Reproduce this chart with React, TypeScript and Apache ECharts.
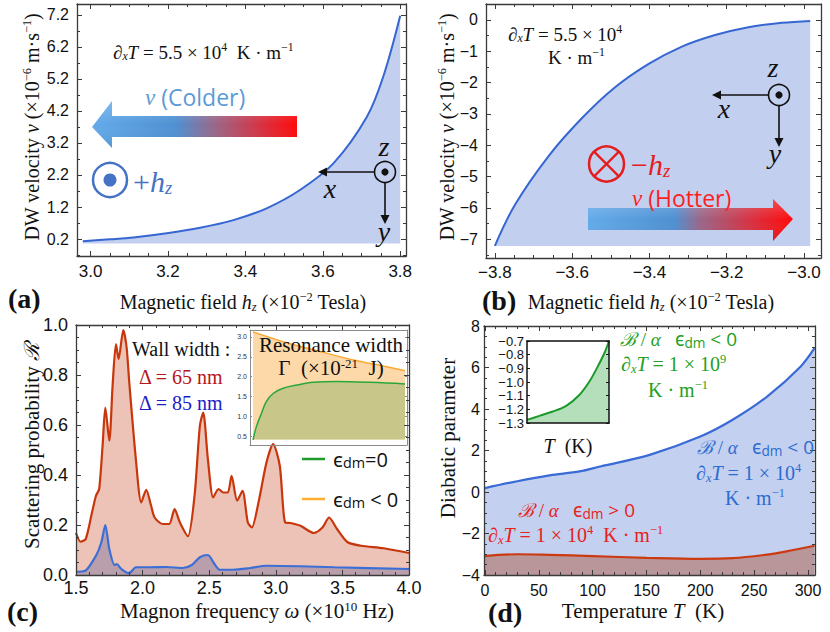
import React, { useEffect, useRef } from "react";
import * as echarts from "echarts";

// ---------------- data ----------------
// (a) DW velocity vs +h_z
const aField = [2.98, 3.05, 3.111, 3.197, 3.283, 3.369, 3.455, 3.541, 3.628, 3.714, 3.757, 3.8];
const aVelocity = [0.13, 0.19, 0.25, 0.38, 0.55, 0.79, 1.16, 1.73, 2.57, 4.02, 5.3, 7.17];
// (b) DW velocity vs -h_z
const bField = [-3.8, -3.748, -3.662, -3.575, -3.489, -3.403, -3.316, -3.23, -3.144, -3.057, -2.984];
const bVelocity = [-7.21, -5.9, -4.36, -3.14, -2.15, -1.41, -0.85, -0.48, -0.23, -0.09, -0.03];
// (c) scattering probability
const cFreqRed = [1.5, 1.535, 1.573, 1.62, 1.65, 1.674, 1.7, 1.72, 1.75, 1.775, 1.8, 1.82, 1.855, 1.88, 1.9, 1.95, 1.99, 2.027, 2.064, 2.09, 2.15, 2.2, 2.24, 2.28, 2.34, 2.39, 2.43, 2.455, 2.49, 2.53, 2.57, 2.606, 2.64, 2.668, 2.71, 2.75, 2.79, 2.82, 2.87, 2.93, 2.98, 3.03, 3.07, 3.11, 3.185, 3.285, 3.35, 3.4, 3.46, 3.54, 3.64, 3.81, 4.0];
const cR65 = [0.168, 0.133, 0.144, 0.25, 0.317, 0.344, 0.52, 0.67, 0.537, 0.76, 0.924, 0.864, 0.98, 0.91, 0.77, 0.46, 0.29, 0.341, 0.277, 0.23, 0.204, 0.204, 0.264, 0.21, 0.155, 0.317, 0.597, 0.65, 0.464, 0.31, 0.344, 0.33, 0.33, 0.397, 0.297, 0.337, 0.21, 0.19, 0.29, 0.45, 0.524, 0.437, 0.21, 0.208, 0.197, 0.168, 0.19, 0.23, 0.184, 0.131, 0.117, 0.107, 0.088];
const cFreqBlue = [1.5, 1.57, 1.65, 1.69, 1.72, 1.75, 1.79, 1.805, 1.84, 1.89, 1.91, 1.95, 2.05, 2.18, 2.3, 2.37, 2.43, 2.49, 2.54, 2.58, 2.68, 2.81, 2.93, 3.185, 3.44, 4.0];
const cR85 = [0.013, 0.017, 0.077, 0.13, 0.2, 0.104, 0.04, 0.044, 0.024, 0.008, 0.011, 0.031, 0.031, 0.032, 0.028, 0.04, 0.071, 0.08, 0.044, 0.021, 0.021, 0.028, 0.037, 0.035, 0.031, 0.024];
// (c) inset: resonance width
const gammaOrangeX = [0, 0.22, 0.44, 0.66, 0.88, 1.0];
const gammaOrange = [3.12, 2.85, 2.63, 2.42, 2.25, 2.15];
const gammaGreenX = [0, 0.022, 0.055, 0.088, 0.132, 0.198, 0.286, 0.396, 0.55, 0.77, 1.0];
const gammaGreen = [0.42, 0.75, 1.08, 1.38, 1.58, 1.71, 1.79, 1.86, 1.88, 1.86, 1.82];
// (d) diabatic parameter
const dTempBlue = [0, 30, 60, 88, 107, 153, 200, 230, 262, 293, 306];
const dBlue = [0.19, 0.52, 0.8, 0.99, 1.23, 1.79, 2.67, 3.48, 4.6, 6.04, 6.93];
const dTempRed = [0, 30, 60, 100, 150, 200, 230, 260, 280, 306];
const dRed = [-3.09, -3.0, -3.03, -3.09, -3.17, -3.22, -3.19, -3.03, -2.86, -2.59];
// (d) inset
const insetT = [0, 0.151, 0.314, 0.478, 0.641, 0.763, 0.865, 0.947, 1.0];
const insetB = [-1.277, -1.248, -1.216, -1.174, -1.093, -0.995, -0.884, -0.784, -0.7];

// tick labels
const aXTicks = [3.0, 3.2, 3.4, 3.6, 3.8];
const aYTicks = [0.2, 1.2, 2.2, 3.2, 4.2, 5.2, 6.2, 7.2];
const bXTicks = [-3.8, -3.6, -3.4, -3.2, -3.0];
const bYTicks = [0, -1, -2, -3, -4, -5, -6, -7];
const cXTicks = [1.5, 2.0, 2.5, 3.0, 3.5, 4.0];
const cYTicks = [0, 0.2, 0.4, 0.6, 0.8, 1.0];
const dXTicks = [0, 50, 100, 150, 200, 250, 300];
const dYTicks = [-4, -2, 0, 2, 4, 6, 8];
const gammaTicks = [0.5, 1.0, 1.5, 2.0, 2.5, 3.0];
const insetDTicks = [-1.3, -1.2, -1.1, -1.0, -0.9, -0.8, -0.7];

// ---------------- helpers ----------------
const SERIF = '"Liberation Serif", "DejaVu Serif", serif';
const SANS = '"Open Sans", "Noto Sans", "Liberation Sans", sans-serif';
const SANS_T = '"Liberation Sans", Arial, sans-serif';

function steps(a: number, b: number, s: number) {
  const out: number[] = [];
  const n = Math.round((b - a) / s);
  for (let i = 0; i <= n; i++) out.push(+(a + i * s).toFixed(6));
  return out;
}
const minus = (s: string) => s.replace("-", "\u2212");
const f1 = (v: number) => minus(v.toFixed(1));
const f0 = (v: number) => minus(String(Math.round(v)));

type Ax = { min: number; max: number; major: number[]; minor: number[]; fmt?: (v: number) => string; size?: number; margin?: number; labelColor?: string };
type FrameStyle = { color: string; width: number; tick: number; minorTick: number; xTicks?: boolean; yTicks?: boolean };

function addFrame(X: any[], Y: any[], grid: number, x: Ax, y: Ax, st: FrameStyle) {
  const mk = (pos: string, a: Ax, line: boolean, ticks: number[], len: number, labels: boolean) => ({
    type: "value",
    gridIndex: grid,
    position: pos,
    min: a.min,
    max: a.max,
    z: 6,
    silent: true,
    axisLine: { show: line, onZero: false, lineStyle: { color: st.color, width: st.width } },
    axisTick: {
      show: ticks.length > 0 && len > 0,
      inside: true,
      length: len,
      customValues: ticks,
      lineStyle: { color: st.color, width: 1 },
    },
    axisLabel:
      labels && a.fmt
        ? { show: true, customValues: a.major, formatter: a.fmt, fontSize: a.size, fontFamily: SANS_T, color: a.labelColor ?? "#111", margin: a.margin ?? 6 }
        : { show: false },
    splitLine: { show: false },
    axisPointer: { show: false },
  });
  const xi = X.length;
  const yi = Y.length;
  const xt = st.xTicks !== false;
  const yt = st.yTicks !== false;
  X.push(mk("bottom", x, true, xt ? x.major : [], st.tick, true));
  X.push(mk("bottom", x, false, xt ? x.minor : [], st.minorTick, false));
  X.push(mk("top", x, true, xt ? x.major : [], st.tick, false));
  X.push(mk("top", x, false, xt ? x.minor : [], st.minorTick, false));
  Y.push(mk("left", y, true, yt ? y.major : [], st.tick, true));
  Y.push(mk("left", y, false, yt ? y.minor : [], st.minorTick, false));
  Y.push(mk("right", y, true, yt ? y.major : [], st.tick, false));
  Y.push(mk("right", y, false, yt ? y.minor : [], st.minorTick, false));
  return { xi, yi };
}

function areaLine(xi: number, yi: number, xs: number[], ys: number[], line: string, width: number, fill: string, origin: any, smooth: any = 0.5) {
  return {
    type: "line",
    xAxisIndex: xi,
    yAxisIndex: yi,
    data: xs.map((x, i) => [x, ys[i]]),
    symbol: "none",
    showSymbol: false,
    smooth,
    silent: true,
    lineStyle: { color: line, width },
    areaStyle: { color: fill, opacity: 1, origin },
    z: 2,
  };
}

function rich(size: number, color: string) {
  const lh = size * 1.08;
  return {
    n: { fontFamily: SERIF, fontSize: size, fill: color, lineHeight: lh },
    i: { fontFamily: SERIF, fontStyle: "italic", fontSize: size, fill: color, lineHeight: lh },
    b: { fontFamily: SERIF, fontWeight: "bold", fontSize: size, fill: color, lineHeight: lh },
    sup: { fontFamily: SERIF, fontSize: size * 0.62, fill: color, lineHeight: size * 0.6, verticalAlign: "top" },
    sub: { fontFamily: SERIF, fontStyle: "italic", fontSize: size * 0.62, fill: color, lineHeight: size * 0.55, verticalAlign: "bottom" },
    s: { fontFamily: SANS, fontSize: size, fill: color, lineHeight: lh },
    ssub: { fontFamily: SANS, fontSize: size * 0.72, fill: color, lineHeight: size * 0.66, verticalAlign: "bottom" },
  };
}

function T(x: number, y: number, text: string, size: number, color: string, align = "left", rotation = 0) {
  return {
    type: "text",
    x,
    y,
    rotation,
    z: 100,
    silent: true,
    style: {
      text,
      fill: color,
      align,
      textAlign: align,
      verticalAlign: "middle",
      textVerticalAlign: "middle",
      font: `${size}px ${SERIF}`,
      rich: rich(size, color),
    },
  };
}

function ln(x1: number, y1: number, x2: number, y2: number, stroke: string, lineWidth: number) {
  return { type: "line", z: 100, silent: true, shape: { x1, y1, x2, y2 }, style: { stroke, lineWidth } };
}
function poly(points: number[][], fill: any) {
  return { type: "polygon", z: 100, silent: true, shape: { points }, style: { fill } };
}
function circ(cx: number, cy: number, r: number, style: any) {
  return { type: "circle", z: 100, silent: true, shape: { cx, cy, r }, style };
}

function axesGlyph(cx: number, cy: number, xTip: number, yTip: number, zPos: number[], xPos: number[], yPos: number[]) {
  const c = "#111";
  return [
    circ(cx, cy, 10.5, { fill: "none", stroke: c, lineWidth: 1.6 }),
    circ(cx, cy, 3.6, { fill: c }),
    ln(cx - 10.5, cy, xTip + 8, cy, c, 1.6),
    poly([[xTip, cy], [xTip + 9, cy - 4.5], [xTip + 9, cy + 4.5]], c),
    ln(cx, cy + 10.5, cx, yTip - 8, c, 1.6),
    poly([[cx, yTip], [cx - 4.5, yTip - 9], [cx + 4.5, yTip - 9]], c),
    T(zPos[0], zPos[1], "{i|z}", 28, c, "center"),
    T(xPos[0], xPos[1], "{i|x}", 28, c, "center"),
    T(yPos[0], yPos[1], "{i|y}", 28, c, "center"),
  ];
}

function gradArrow(points: number[][], stops: [number, string][]) {
  return [
    poly(points, new echarts.graphic.LinearGradient(0, 0, 1, 0, stops.map(([offset, color]) => ({ offset, color })))),
    poly(
      points,
      new echarts.graphic.LinearGradient(0, 0, 0, 1, [
        { offset: 0, color: "rgba(255,255,255,0.22)" },
        { offset: 0.5, color: "rgba(255,255,255,0)" },
        { offset: 1, color: "rgba(0,0,0,0.10)" },
      ])
    ),
  ];
}

function buildOption() {
  const X: any[] = [];
  const Y: any[] = [];
  const main: FrameStyle = { color: "#3a3a3a", width: 1.3, tick: 5, minorTick: 3 };

  const A = addFrame(X, Y, 0,
    { min: 2.965, max: 3.815, major: aXTicks, minor: steps(2.95, 3.8, 0.05), fmt: f1, size: 17, margin: 7 },
    { min: -0.33, max: 7.54, major: aYTicks, minor: steps(-0.3, 7.2, 0.5), fmt: f1, size: 16, margin: 8 }, main);
  const B = addFrame(X, Y, 1,
    { min: -3.823, max: -2.956, major: bXTicks, minor: steps(-3.8, -2.95, 0.05), fmt: f1, size: 17, margin: 6 },
    { min: -7.6, max: 0.51, major: bYTicks, minor: steps(-7.5, 0.5, 0.5), fmt: f0, size: 16, margin: 8 }, main);
  const C = addFrame(X, Y, 2,
    { min: 1.5, max: 4.0, major: cXTicks, minor: steps(1.5, 4.0, 0.1), fmt: f1, size: 18, margin: 4 },
    { min: 0, max: 1.0, major: cYTicks, minor: steps(0, 1.0, 0.05), fmt: f1, size: 18, margin: 8 }, main);
  const D = addFrame(X, Y, 3,
    { min: -0.9, max: 306.5, major: dXTicks, minor: steps(0, 300, 10), fmt: f0, size: 16, margin: 7 },
    { min: -4, max: 8, major: dYTicks, minor: steps(-4, 8, 0.5), fmt: f0, size: 16, margin: 4 }, main);
  const IC = addFrame(X, Y, 4,
    { min: -0.02, max: 1.013, major: [], minor: [] },
    { min: 0.29, max: 3.17, major: gammaTicks, minor: [], fmt: (v: number) => v.toFixed(1), size: 7, margin: 3, labelColor: "#333" },
    { color: "#8a8a8a", width: 1, tick: 2, minorTick: 0, xTicks: false });
  const ID = addFrame(X, Y, 5,
    { min: 0, max: 1, major: [], minor: [] },
    { min: -1.3, max: -0.7, major: insetDTicks, minor: [], fmt: f1, size: 13, margin: 3 },
    { color: "#111", width: 1.5, tick: 3, minorTick: 0, xTicks: false });

  const series = [
    areaLine(A.xi, A.yi, aField, aVelocity, "#3566d1", 2, "#c3cfee", 0.06, 0.35),
    areaLine(B.xi, B.yi, bField, bVelocity, "#3566d1", 2, "#c3cfee", -7.22, 0.35),
    areaLine(C.xi, C.yi, cFreqRed, cR65, "#c8360c", 2.2, "#ecc3b6", "start", 0.25),
    areaLine(C.xi, C.yi, cFreqBlue, cR85, "#3c6fd6", 2.2, "#b99fac", "start", 0.25),
    areaLine(IC.xi, IC.yi, gammaOrangeX, gammaOrange, "#fca832", 1.5, "#fdd9aa", 0.43, 0.35),
    areaLine(IC.xi, IC.yi, gammaGreenX, gammaGreen, "#28a83a", 1.5, "#c9c68a", 0.43, 0.35),
    areaLine(D.xi, D.yi, dTempBlue, dBlue, "#3a6ad6", 2.2, "#c3d0ef", "start", 0.35),
    areaLine(D.xi, D.yi, dTempRed, dRed, "#cc3a12", 2.2, "#b9969a", "start", 0.35),
    areaLine(ID.xi, ID.yi, insetT, insetB, "#1b9a2b", 2, "#b4dfba", "start", 0.35),
  ];

  const black = "#111";
  const blueH = "#4472c4";
  const redH = "#e41c1c";
  const green = "#22a022";
  const blueT = "#2c6cd0";
  const redT = "#e82020";

  const elements: any[] = [
    // ---- (a) ----
    T(113, 52, "{i|\u2202}{sub|x}{i|T}{n| = 5.5 \u00d7 10}{sup|4}{n|  K \u00b7 m}{sup|\u22121}", 19, black),
    ...gradArrow(
      [[92, 127], [112, 101], [112, 116], [297, 116], [297, 137], [112, 137], [112, 148]],
      [[0, "#63aaea"], [0.41, "#4e90d2"], [0.6, "#9a6688"], [0.83, "#d83040"], [1, "#ff0a0a"]]
    ),
    T(145, 97, "{i|v}{s| (Colder)}", 23, "#5b9bd5"),
    circ(110, 180, 17, { fill: "none", stroke: blueH, lineWidth: 2.5 }),
    circ(110, 180, 6.5, { fill: blueH }),
    T(133, 181, "{n|+}{i|h}{sub|z}", 30, blueH),
    ...axesGlyph(385, 172, 318, 224, [384, 146], [330, 188], [384, 231]),
    T(8, 298, "{b|(a)}", 28, black),
    T(243, 302, "{n|Magnetic field }{i|h}{sub|z}{n| (\u00d710}{sup|\u22122}{n| Tesla)}", 20, black, "center"),
    T(32, 127, "{n|DW velocity }{i|v}{n| (\u00d710}{sup|\u22126}{n| m\u00b7s}{sup|\u22121}{n|)}", 20, black, "center", Math.PI / 2),

    // ---- (b) ----
    T(508, 34, "{i|\u2202}{sub|x}{i|T}{n| = 5.5 \u00d7 10}{sup|4}", 19, black),
    T(548, 57, "{n|K \u00b7 m}{sup|\u22121}", 19, black),
    ...axesGlyph(779, 95, 712, 147, [773, 67], [724, 108], [775, 153]),
    circ(606.5, 164, 17.5, { fill: "none", stroke: redH, lineWidth: 2.5 }),
    ln(606.5 - 12.4, 164 - 12.4, 606.5 + 12.4, 164 + 12.4, redH, 2.2),
    ln(606.5 - 12.4, 164 + 12.4, 606.5 + 12.4, 164 - 12.4, redH, 2.2),
    T(631, 164, "{n|\u2212}{i|h}{sub|z}", 30, redH),
    ...gradArrow(
      [[588, 208], [773, 208], [773, 199], [793, 219], [773, 241], [773, 230], [588, 230]],
      [[0, "#63aaea"], [0.42, "#4e90d2"], [0.55, "#9a6688"], [0.8, "#d83040"], [1, "#ff0a0a"]]
    ),
    T(632, 198, "{i|v}{s| (Hotter)}", 23, "#ff1e1e"),
    T(482, 300, "{b|(b)}", 28, black),
    T(651, 302, "{n|Magnetic field }{i|h}{sub|z}{n| (\u00d710}{sup|\u22122}{n| Tesla)}", 20, black, "center"),
    T(447, 127, "{n|DW velocity }{i|v}{n| (\u00d710}{sup|\u22126}{n| m\u00b7s}{sup|\u22121}{n|)}", 20, black, "center", Math.PI / 2),

    // ---- (c) ----
    T(132, 349, "{n|Wall width :}", 20, black),
    T(139, 377, "{n|\u0394 = 65 nm}", 20, "#b5141a"),
    T(139, 403, "{n|\u0394 = 85 nm}", 20, "#1c1cc8"),
    T(331, 345, "{n|Resonance width}", 21, black, "center"),
    T(331, 368, "{n|\u0393  (\u00d710}{sup|-21}{n|  J)}", 21, black, "center"),
    ln(302, 459, 325, 459, "#1f9a2a", 2.5),
    T(333, 459, "{s|\u03f5}{ssub|dm}{s|=0}", 20, black),
    ln(302, 499, 325, 499, "#ffad33", 2.5),
    T(333, 499, "{s|\u03f5}{ssub|dm}{s| < 0}", 20, black),
    T(7, 611, "{b|(c)}", 28, black),
    T(257, 611, "{n|Magnon frequency }{i|\u03c9}{n| (\u00d710}{sup|10}{n| Hz)}", 21, black, "center"),
    T(32, 446, "{n|Scattering probability }{i|\u211b}", 21, black, "center", Math.PI / 2),

    // ---- (d) ----
    T(620, 339, "{i|\u212c}{n| / }{i|\u03b1}{n|   }{s|\u03f5}{ssub|dm}{s| < 0}", 19, green),
    T(621, 364, "{i|\u2202}{sub|x}{i|T}{n| = 1 \u00d7 10}{sup|9}", 20, green),
    T(648, 390, "{n|K \u00b7 m}{sup|\u22121}", 20, green),
    T(697, 447, "{i|\u212c}{n| / }{i|\u03b1}{n|   }{s|\u03f5}{ssub|dm}{s| < 0}", 19, blueT),
    T(696, 473, "{i|\u2202}{sub|x}{i|T}{n| = 1 \u00d7 10}{sup|4}", 20, blueT),
    T(725, 498, "{n|K \u00b7 m}{sup|\u22121}", 20, blueT),
    T(518, 510, "{i|\u212c}{n| / }{i|\u03b1}{n|   }{s|\u03f5}{ssub|dm}{s| > 0}", 19, redT),
    T(488, 535, "{i|\u2202}{sub|x}{i|T}{n| = 1 \u00d7 10}{sup|4}{n|  K \u00b7 m}{sup|\u22121}", 20, redT),
    T(568, 446, "{i|T}{n|  (K)}", 20, black, "center"),
    T(488, 612, "{b|(d)}", 28, black),
    T(643, 611, "{n|Temperature }{i|T}{n|  (K)}", 21, black, "center"),
    T(448, 438, "{n|Diabatic parameter}", 21, black, "center", Math.PI / 2),
  ];

  return {
    animation: false,
    backgroundColor: "#ffffff",
    grid: [
      { left: 77, top: 4, width: 329, height: 252 },
      { left: 486, top: 4, width: 335, height: 254 },
      { left: 76, top: 325, width: 333, height: 250 },
      { left: 484, top: 326, width: 331, height: 249 },
      { left: 250, top: 330, width: 157, height: 115 },
      { left: 527, top: 341, width: 82, height: 82 },
    ],
    xAxis: X,
    yAxis: Y,
    series,
    graphic: { elements },
  };
}

export default function App() {
  const ref = useRef<HTMLDivElement>(null);
  useEffect(() => {
    if (!ref.current) return;
    const chart = echarts.init(ref.current, undefined, { renderer: "svg" });
    chart.setOption(buildOption() as any);
    return () => chart.dispose();
  }, []);
  return (
    <div
      ref={ref}
      style={{ position: "fixed", left: 0, top: 0, width: 830, height: 632, background: "#fff" }}
    />
  );
}
